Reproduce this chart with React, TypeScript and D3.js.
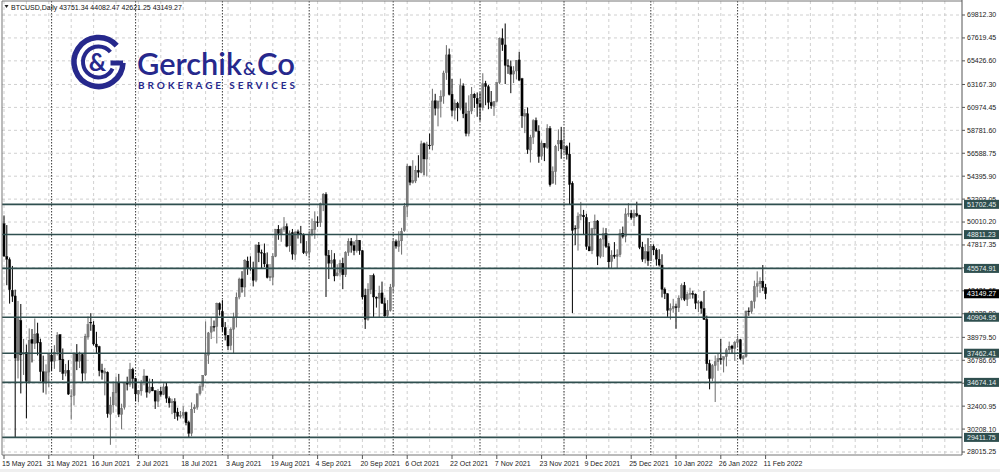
import React from 'react';
import * as d3 from 'd3';

// ---- data (USD), daily candles [open, high, low, close] starting 15 May 2021 ----
const startDate = new Date(2021, 4, 15);

const may21 = [
  [49855, 50639, 46665, 46761], [46716, 49720, 43963, 46456], [46415, 46623, 42207, 43538],
  [43488, 45812, 42367, 42910], [42944, 43546, 29400, 37002], [36753, 42462, 35050, 40782],
  [40597, 42172, 33616, 37305], [37371, 38832, 35383, 37536], [37531, 38289, 31227, 34770],
  [34701, 39836, 34551, 38706], [38795, 39776, 36581, 38403], [38393, 40782, 37868, 39294],
  [39317, 40379, 37247, 38437], [38507, 38856, 34779, 35697], [35685, 37234, 33693, 34617],
  [34607, 36400, 33520, 35678], [35658, 37468, 34241, 37332],
];
const jun21 = [
  [37293, 37896, 35787, 36685], [36699, 38231, 35967, 37575], [37599, 39478, 37244, 39187],
  [39243, 39289, 35661, 36825], [36881, 37917, 34900, 35520], [35539, 36437, 35258, 35796],
  [35835, 36790, 33480, 33552], [33380, 34017, 31114, 33381], [33416, 37537, 32475, 37389],
  [37389, 38334, 35847, 36703], [36697, 37608, 36044, 37314], [37340, 37436, 34748, 35551],
  [35556, 39322, 34864, 39097], [39016, 40978, 38757, 40219], [40427, 41295, 39609, 40407],
  [40169, 40528, 38198, 38347], [38341, 39513, 37439, 38053], [38100, 38176, 35255, 35787],
  [35854, 36457, 34934, 35615], [35563, 36059, 33432, 35698], [35641, 35721, 31295, 31676],
  [31622, 33298, 28700, 32505], [32516, 34753, 31772, 33723], [33682, 35228, 32385, 34662],
  [34659, 35487, 31351, 31637], [31594, 32637, 30184, 32186], [32287, 34656, 32071, 34650],
  [34679, 35219, 33902, 34494], [34475, 36542, 34252, 35911], [35908, 36074, 34086, 35041],
];
const jul21 = [
  [35035, 35100, 32883, 33572], [33550, 33939, 32770, 33897], [33854, 34910, 33403, 34668],
  [34665, 35937, 34396, 35287], [35284, 35300, 33213, 33746], [33723, 35038, 33599, 34235],
  [34225, 34997, 33839, 33855], [33889, 33907, 32133, 32877], [32862, 34044, 32318, 33798],
  [33811, 34245, 33307, 33520], [33510, 34592, 33448, 34240], [34263, 34626, 32716, 33155],
  [33137, 33328, 32261, 32702], [32729, 33115, 31634, 32822], [32821, 33159, 31175, 31780],
  [31841, 32249, 31021, 31421], [31398, 31935, 31223, 31533], [31533, 32398, 31215, 31796],
  [31801, 31885, 30563, 30817], [30838, 31006, 29360, 29807], [29796, 32752, 29526, 32110],
  [32138, 32576, 31745, 32314], [32305, 33581, 32057, 33581], [33593, 34490, 33424, 34292],
  [34291, 35364, 33881, 35351], [35384, 40499, 35287, 37337], [37276, 39500, 36441, 39406],
  [39474, 40879, 38818, 39996], [40027, 40593, 39541, 40008], [40019, 42300, 38397, 42236],
  [42191, 42316, 41064, 41626],
];
const aug21 = [
  [41461, 42541, 39540, 39974], [39908, 40446, 38690, 39201], [39178, 39210, 37782, 38153],
  [38214, 39931, 37754, 39748], [39745, 41341, 37459, 40870], [40865, 43271, 39932, 42816],
  [42833, 44689, 42619, 44556], [44575, 45310, 43261, 43798], [43791, 46456, 42848, 46365],
  [46280, 46700, 44960, 45585], [45602, 46735, 45352, 45593], [45611, 46218, 43848, 44428],
  [44439, 47885, 44261, 47793], [47810, 48098, 46177, 47096], [47097, 47373, 45579, 47047],
  [47020, 47953, 45705, 46004], [45937, 47101, 44613, 44695], [44686, 45987, 44364, 44802],
  [44741, 47033, 43981, 46717], [46723, 49342, 46651, 49339], [49327, 49718, 48312, 48905],
  [48870, 49471, 48118, 49321], [49291, 50482, 49074, 49546], [49562, 49878, 47600, 47706],
  [47727, 49202, 47163, 48960], [49002, 49347, 46405, 46942], [46894, 49112, 46394, 49058],
  [49073, 49287, 48428, 48897], [48911, 49640, 47974, 48806], [48834, 48925, 46950, 47074],
  [47024, 48189, 46750, 47166],
];
const sep21 = [
  [47100, 49150, 46514, 48847], [48807, 50343, 48652, 49327], [49288, 51033, 48400, 50035],
  [50025, 50558, 49548, 49947], [49944, 51868, 49538, 51769], [51769, 52780, 51053, 52677],
  [52661, 52853, 42844, 46809], [46827, 47334, 44562, 46079], [46063, 47340, 45513, 46368],
  [46396, 47031, 44344, 44847], [44869, 45969, 44818, 45144], [45206, 46364, 44790, 46063],
  [46058, 46598, 43591, 44963], [44960, 47218, 44752, 47092], [47099, 48450, 46773, 48177],
  [48159, 48486, 47079, 47783], [47771, 48160, 46832, 47267], [47273, 48791, 47087, 48278],
  [48268, 48273, 46877, 47260], [47261, 47328, 42598, 42843], [43012, 43639, 39787, 40694],
  [40678, 44161, 40571, 43574], [43560, 44942, 43115, 44896], [44894, 45080, 40937, 42840],
  [42839, 42879, 41828, 42716], [42721, 43919, 40848, 43208], [43234, 44313, 42190, 42235],
  [42200, 42775, 40931, 41034], [41064, 42545, 40829, 41564], [41551, 44092, 41444, 43790],
];
const oct21 = [
  [43816, 48436, 43320, 48116], [48138, 48339, 47465, 47711], [47680, 49130, 47157, 48199],
  [48208, 49456, 46895, 49112], [49174, 51839, 49072, 51514], [51487, 55568, 50488, 55361],
  [55339, 55400, 53525, 53805], [53803, 55922, 53688, 53967], [53930, 55397, 53735, 54968],
  [54952, 56401, 54264, 54771], [54734, 57793, 54671, 57484], [57526, 57627, 54477, 56041],
  [56038, 57688, 54370, 57401], [57372, 58478, 56957, 57321], [57345, 62757, 56868, 61593],
  [61609, 62274, 60206, 60887], [60887, 61645, 59164, 61553], [61548, 62614, 60012, 62026],
  [62044, 64486, 61322, 64262], [64284, 66930, 63610, 65993], [66002, 66600, 62117, 62210],
  [62237, 63715, 60122, 60693], [60694, 61743, 59826, 61393], [61368, 61505, 59643, 60930],
  [60893, 63729, 60691, 63039], [63032, 63276, 59944, 60363], [60352, 61435, 58208, 58482],
  [58470, 62128, 58206, 60622], [60624, 62927, 60330, 62228], [62239, 62330, 60918, 61888],
  [61850, 62406, 60075, 61318],
];
const nov21 = [
  [61320, 62419, 59695, 61004], [60963, 64242, 60673, 63226], [63254, 63516, 61184, 62970],
  [62941, 63123, 60799, 61452], [61460, 62541, 60844, 61125], [61068, 61590, 60163, 61527],
  [61554, 63400, 61432, 63326], [63344, 67673, 63200, 67567], [67549, 68530, 66382, 66971],
  [66953, 69000, 63208, 64995], [64978, 65579, 64180, 64949], [64863, 65460, 62333, 64155],
  [64158, 64915, 63303, 64469], [64455, 65495, 63647, 65466], [65521, 66281, 63548, 63557],
  [63721, 63800, 59016, 60162], [60140, 60824, 58515, 60369], [60360, 60977, 56529, 56942],
  [56897, 58352, 55705, 58119], [58115, 59845, 57469, 59697], [59730, 60004, 58618, 58730],
  [58707, 59266, 55679, 56289], [56304, 57803, 55964, 57570], [57541, 57561, 55837, 57138],
  [57138, 59367, 57017, 58960], [58960, 59183, 53400, 53569], [53736, 55329, 53668, 54815],
  [54814, 57393, 53576, 57248], [57474, 58872, 56792, 57806], [57830, 59113, 56058, 57005],
];
const dec21 = [
  [56907, 59042, 56553, 57229], [57217, 57353, 55985, 56477], [56509, 57600, 51680, 53598],
  [53727, 53904, 41300, 49201], [49413, 49699, 47790, 49368], [49396, 50929, 47281, 50582],
  [50582, 51934, 50175, 50700], [50667, 51171, 48765, 50504], [50451, 50798, 47358, 47672],
  [47643, 50015, 47236, 47243], [47265, 49458, 46942, 49362], [49354, 50724, 48725, 50098],
  [50114, 50205, 45894, 46737], [46709, 48475, 46547, 48379], [48379, 49473, 46671, 48896],
  [48900, 49425, 47529, 47665], [47653, 47995, 45598, 46202], [46219, 47313, 45599, 46849],
  [46853, 48089, 46502, 46707], [46707, 47401, 45579, 46880], [46880, 49328, 46650, 48936],
  [48937, 49576, 48450, 48628], [48626, 51332, 48068, 50784], [50806, 51814, 50514, 50822],
  [50854, 51176, 50236, 50429], [50428, 51196, 49623, 50809], [50802, 51956, 50499, 50640],
  [50679, 50700, 47414, 47588], [47623, 48119, 46201, 46444], [46490, 47879, 46060, 47178],
  [47169, 48472, 45819, 46306],
];
const jan22 = [
  [46311, 47827, 46289, 47686], [47680, 47881, 46856, 47345], [47343, 47510, 45835, 46458],
  [46459, 47406, 45752, 45897], [45899, 46929, 42798, 43569], [43565, 43748, 42645, 43160],
  [43153, 43200, 40938, 41557], [41561, 42228, 40672, 41734], [41734, 42663, 41338, 41912],
  [41910, 42199, 39796, 41821], [41819, 43001, 41407, 42735], [42742, 44135, 42528, 43949],
  [43946, 44278, 42447, 42591], [42598, 43346, 41982, 43099], [43101, 43724, 42669, 43178],
  [43172, 43436, 42691, 43113], [43118, 43179, 41680, 42250], [42250, 42534, 41392, 42375],
  [42374, 42478, 41242, 41744], [41745, 43413, 40673, 40680], [40699, 41060, 35791, 36458],
  [36471, 36835, 34009, 35030], [35048, 36433, 34785, 36276], [36275, 37247, 32800, 36654],
  [36654, 37444, 35779, 36954], [36950, 38825, 36374, 36853], [36841, 37148, 35629, 37138],
  [37128, 37952, 36211, 37784], [37780, 38576, 37406, 38138], [38151, 38266, 37385, 37917],
  [37921, 38647, 36733, 38483],
];
const feb22 = [
  [38482, 39116, 38113, 38743], [38743, 38834, 36832, 36952], [36944, 37300, 36375, 37154],
  [37149, 41528, 37033, 41501], [41501, 41847, 41038, 41441], [41442, 42500, 41244, 42412],
  [42406, 44401, 41748, 43840], [43855, 45293, 42807, 44118], [44096, 44727, 43232, 44338],
  [44347, 45900, 43402, 43751], [43751.34, 44082.47, 42621.25, 43149.27],
];

const priceTicks = [
  69812.3, 67619.45, 65426.6, 63167.3, 60974.45, 58781.6, 56588.75, 54395.9, 52203.05,
  50010.2, 47817.35, 45624.5, 43431.65, 41238.8, 38979.5, 36786.65, 34593.8, 32400.95,
  30208.1, 28015.25,
];
const levelPrices = [51702.45, 48811.23, 45574.91, 40904.95, 37462.41, 34674.14, 29411.75];
const lastPrice = 43149.27;
const headerSymbol = 'BTCUSD,Daily';
const headerValues = ['43751.34', '44082.47', '42621.25', '43149.27'];

const FONT = "'Liberation Sans', Arial, sans-serif";
const LOGO_FONT = "Lato, 'Open Sans', sans-serif";
const LOGO = '#26288c';
const LEVEL = '#2f4f4f';

export default function App() {
  const candles = [...may21, ...jun21, ...jul21, ...aug21, ...sep21, ...oct21, ...nov21, ...dec21, ...jan22, ...feb22];
  const n = candles.length;
  const L = 2, R = 962, T = 1, B = 455;

  const x = d3.scaleLinear().domain([0, n - 1]).range([4, 4 + 2.8 * (n - 1)]);
  const y = d3.scaleLinear().domain([28015.25, 69812.3]).range([452, 15]);
  const dateOf = (i: number) => d3.timeDay.offset(startDate, i);
  const fmtDate = d3.timeFormat('%-d %b %Y');

  const maxIdx = Math.floor(x.invert(R));
  const gridIdx = d3.range(0, maxIdx + 1, 8);
  const labelIdx = d3.range(0, n, 16);
  const sepIdx = d3.range(1, n).filter((i) => dateOf(i).getDate() === 1);

  const arcPath = (cx: number, cy: number, r: number, a0: number, a1: number) => {
    const p0 = [cx + r * Math.cos((a0 * Math.PI) / 180), cy + r * Math.sin((a0 * Math.PI) / 180)];
    const p1 = [cx + r * Math.cos((a1 * Math.PI) / 180), cy + r * Math.sin((a1 * Math.PI) / 180)];
    return `M${p0[0]},${p0[1]} A${r},${r} 0 1 0 ${p1[0]},${p1[1]}`;
  };
  const cx = 98.5, cy = 62;

  return (
    <svg width={1000} height={472} style={{ position: 'absolute', left: 0, top: 0, background: '#fff' }}
      fontFamily={FONT}>
      <rect x={0} y={0} width={1000} height={472} fill="#fff" />
      <rect x={0} y={469} width={1000} height={3} fill="#efefef" />

      {/* horizontal grid */}
      {priceTicks.map((p) => (
        <line key={'hg' + p} x1={L} x2={R} y1={y(p)} y2={y(p)} stroke="#c4c4c4" strokeWidth={0.8} strokeDasharray="3,3" />
      ))}
      {/* vertical grid */}
      {gridIdx.map((i) => (
        <line key={'vg' + i} x1={x(i)} x2={x(i)} y1={T} y2={B} stroke="#c4c4c4" strokeWidth={0.8} strokeDasharray="3,3" />
      ))}
      {/* month separators */}
      {sepIdx.map((i) => (
        <line key={'sep' + i} x1={x(i)} x2={x(i)} y1={T} y2={B} stroke="#3c3c3c" strokeWidth={1} strokeDasharray="1.5,1.5" />
      ))}

      {/* logo */}
      <g>
        <path d={arcPath(cx, cy, 24.5, -42, 2)} fill="none" stroke={LOGO} strokeWidth={5.5} />
        <line x1={cx + 24.5} x2={cx + 12} y1={cy + 1} y2={cy + 1} stroke={LOGO} strokeWidth={5} />
        <path d={arcPath(cx, cy, 15.5, -40, 25)} fill="none" stroke={LOGO} strokeWidth={4} />
        <text x={cx - 1} y={cy + 9} fontFamily={LOGO_FONT} fontWeight={700} fontSize={24}
          fill={LOGO} textAnchor="middle">&amp;</text>
        <text x={137} y={75} fontFamily={LOGO_FONT} fontWeight={600} fontSize={31}
          fill={LOGO} textLength={105} lengthAdjust="spacingAndGlyphs">Gerchik</text>
        <text x={243} y={75} fontFamily={LOGO_FONT} fontWeight={600} fontSize={17}
          fill={LOGO} textLength={13} lengthAdjust="spacingAndGlyphs">&amp;</text>
        <text x={257} y={75} fontFamily={LOGO_FONT} fontWeight={600} fontSize={31}
          fill={LOGO} textLength={38} lengthAdjust="spacingAndGlyphs">Co</text>
        <text x={138} y={89} fontFamily={LOGO_FONT} fontWeight={700} fontSize={10}
          fill={LOGO} textLength={157} lengthAdjust="spacing">BROKERAGE SERVICES</text>
      </g>

      {/* candles */}
      {candles.map((c, i) => {
        const [o, h, l, cl] = c;
        const up = cl >= o;
        const col = up ? '#7c7c7c' : '#000';
        const top = y(Math.max(o, cl));
        const bot = y(Math.min(o, cl));
        return (
          <g key={'c' + i}>
            <line x1={x(i)} x2={x(i)} y1={y(h)} y2={y(l)} stroke={up ? '#6a6a6a' : '#000'} strokeWidth={1} />
            <rect x={x(i) - 1.1} y={top} width={2.2} height={Math.max(0.8, bot - top)} fill={col}
              stroke={up ? '#5a5a5a' : '#000'} strokeWidth={0.3} />
          </g>
        );
      })}

      {/* level lines */}
      {levelPrices.map((p) => (
        <line key={'lv' + p} x1={L} x2={R} y1={y(p)} y2={y(p)} stroke={LEVEL} strokeWidth={1.6} />
      ))}

      {/* frame */}
      <line x1={L} x2={R} y1={T} y2={T} stroke="#777" strokeWidth={1} />
      <line x1={L} x2={L} y1={T} y2={B} stroke="#777" strokeWidth={1} />
      <line x1={L} x2={R} y1={B} y2={B} stroke="#777" strokeWidth={1} />
      <line x1={R} x2={R} y1={0} y2={B} stroke="#555" strokeWidth={1} />

      {/* header */}
      <path d="M4.5,5 L8.5,5 L6.5,8 Z" fill="#222" />
      <text x={11} y={9.5} fontSize={7} fill="#111">
        {headerSymbol + '  ' + headerValues.join(' ')}
      </text>

      {/* price axis */}
      {priceTicks.map((p) => (
        <g key={'pt' + p}>
          <line x1={R} x2={R + 3} y1={y(p)} y2={y(p)} stroke="#555" />
          <text x={R + 5} y={y(p)} dy="0.35em" fontSize={7} fill="#222">{p.toFixed(2)}</text>
        </g>
      ))}
      {levelPrices.map((p) => (
        <g key={'lb' + p}>
          <rect x={R + 2} y={y(p) - 4.5} width={35} height={9} fill={LEVEL} />
          <text x={R + 5} y={y(p)} dy="0.35em" fontSize={7} fill="#e8eeee">{p.toFixed(2)}</text>
        </g>
      ))}
      <rect x={R + 2} y={y(lastPrice) - 4.5} width={35} height={9} fill="#000" />
      <text x={R + 5} y={y(lastPrice)} dy="0.35em" fontSize={7} fill="#fff">{lastPrice.toFixed(2)}</text>

      {/* time axis */}
      {labelIdx.map((i) => (
        <g key={'tl' + i}>
          <line x1={x(i)} x2={x(i)} y1={B} y2={B + 4} stroke="#555" />
          <text x={x(i) - 2} y={466} fontSize={7} fill="#222">{fmtDate(dateOf(i))}</text>
        </g>
      ))}
    </svg>
  );
}
